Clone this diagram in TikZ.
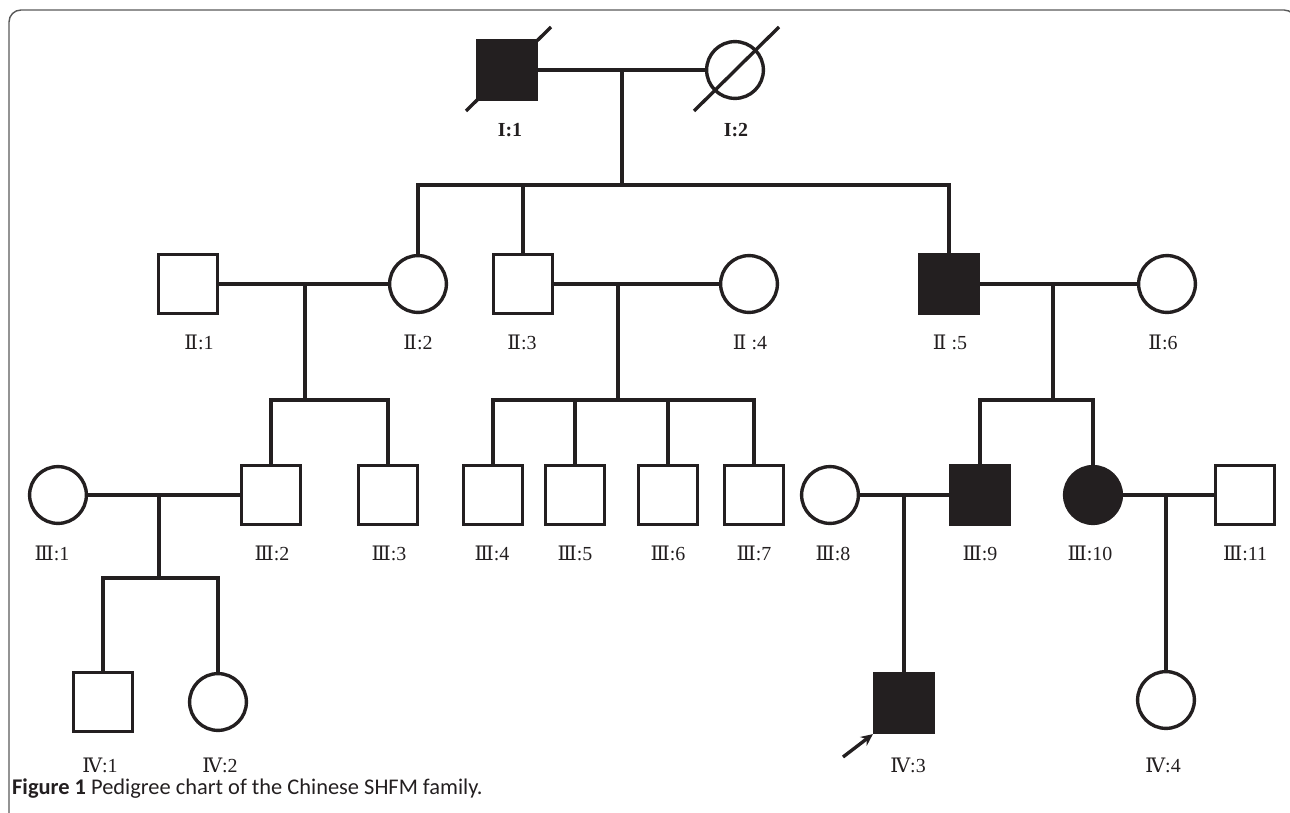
\documentclass[tikz,border=0pt]{standalone}
\usepackage{fontspec}
\setmainfont{Liberation Serif}
\newfontfamily\romfont{DejaVu Serif}
\newfontfamily\capfont{Carlito}
\usetikzlibrary{calc,arrows.meta}
\definecolor{ink}{HTML}{231F20}
\newcommand\rn[1]{{\romfont #1}}

\begin{document}
\begin{tikzpicture}[x=1bp,y=-1bp,
  male/.style={draw=ink,line width=3.4,rectangle,minimum size=59,inner sep=0pt},
  female/.style={draw=ink,line width=3.4,circle,minimum size=57,inner sep=0pt},
  msick/.style={male,fill=ink},
  fsick/.style={female,fill=ink},
  link/.style={draw=ink,line width=3.4},
  lbl/.style={text=ink,font=\fontsize{20}{24}\selectfont,inner sep=0pt}]

\useasboundingbox (0,0) rectangle (1290,813);
% frame
\draw[black!65,line width=1.4,rounded corners=12] (9,820) -- (9,10) -- (1296,10) -- (1296,820);

% individuals
\foreach \nm/\x/\y/\st in {I1/507/70/msick, I2/735/70/female,
    II1/188/284/male, II2/418/284/female, II3/523/284/male, II4/749/284/female,
    II5/949/284/msick, II6/1167/284/female,
    III1/58/495/female, III2/271/495/male, III3/388/495/male, III4/493/495/male,
    III5/575/495/male, III6/668/495/male, III7/754/495/male, III8/830/495/female,
    III9/980/495/msick, III10/1093/495/fsick, III11/1245/495/male,
    IV1/103/702/male, IV2/218/702/female, IV3/904/703/msick, IV4/1166/700/female}
  \node[\st] (\nm) at (\x,\y) {};

% deceased
\foreach \n in {I1,I2}
  \draw[link] ($(\n)+(-41,41)$) -- ($(\n)+(44,-43)$);

% labels
\node[lbl,font=\fontsize{20}{24}\selectfont\bfseries] (lI1) at (510,130) {I:1};
\node[lbl,font=\fontsize{20}{24}\selectfont\bfseries] (lI2) at (736,130) {I:2};
\foreach \nm/\x/\y/\txt in {II1/199/342/\rn{Ⅱ}:1, II2/418/342/\rn{Ⅱ}:2,
    II3/522/342/\rn{Ⅱ}:3, II4/750/342/\rn{Ⅱ} :4, II5/950/342/\rn{Ⅱ} :5,
    II6/1163/342/\rn{Ⅱ}:6,
    III1/52/553/\rn{Ⅲ}:1, III2/272/553/\rn{Ⅲ}:2, III3/389/553/\rn{Ⅲ}:3,
    III4/492/553/\rn{Ⅲ}:4, III5/575/553/\rn{Ⅲ}:5, III6/668/553/\rn{Ⅲ}:6,
    III7/754/553/\rn{Ⅲ}:7, III8/833/553/\rn{Ⅲ}:8, III9/980/553/\rn{Ⅲ}:9,
    III10/1090/553/\rn{Ⅲ}:10, III11/1245/553/\rn{Ⅲ}:11,
    IV1/100/765/\rn{Ⅳ}:1, IV2/220/765/\rn{Ⅳ}:2, IV3/908/765/\rn{Ⅳ}:3,
    IV4/1163/765/\rn{Ⅳ}:4}
  \node[lbl] (l\nm) at (\x,\y) {\txt};

% I:1 x I:2
\coordinate (m1) at (622,70);
\coordinate (s1) at (622,185);
\draw[link] (I1.east) -- (I2.west);
\draw[link] (m1) -- (s1);
\draw[link] (II2.north) -- (II2.north |- s1) -- (II5.north |- s1) -- (II5.north);
\draw[link] (II3.north |- s1) -- (II3.north);

% II:1 x II:2
\coordinate (m2) at (305,284);
\coordinate (s2) at (305,400);
\draw[link] (II1.east) -- (II2.west);
\draw[link] (m2) -- (s2);
\draw[link] (III2.north) -- (III2.north |- s2) -- (III3.north |- s2) -- (III3.north);

% II:3 x II:4
\coordinate (m3) at (618,284);
\coordinate (s3) at (618,400);
\draw[link] (II3.east) -- (II4.west);
\draw[link] (m3) -- (s3);
\draw[link] (III4.north) -- (III4.north |- s3) -- (III7.north |- s3) -- (III7.north);
\foreach \n in {III5,III6}
  \draw[link] (\n.north |- s3) -- (\n.north);

% II:5 x II:6
\coordinate (m4) at (1053,284);
\coordinate (s4) at (1053,400);
\draw[link] (II5.east) -- (II6.west);
\draw[link] (m4) -- (s4);
\draw[link] (III9.north) -- (III9.north |- s4) -- (III10.north |- s4) -- (III10.north);

% III:1 x III:2
\coordinate (m5) at (159,495);
\coordinate (s5) at (159,578);
\draw[link] (III1.east) -- (III2.west);
\draw[link] (m5) -- (s5);
\draw[link] (IV1.north) -- (IV1.north |- s5) -- (IV2.north |- s5) -- (IV2.north);

% III:8 x III:9
\coordinate (m6) at (904,495);
\draw[link] (III8.east) -- (III9.west);
\draw[link] (m6) -- (IV3.north);

% III:10 x III:11
\coordinate (m7) at (1166,495);
\draw[link] (III10.east) -- (III11.west);
\draw[link] (m7) -- (IV4.north);

% proband
\coordinate (arr) at (843,757);
\draw[link,-{Stealth[length=12,width=11]}] (arr) -- (IV3.south west);

% caption
\node[anchor=base west,inner sep=0pt,text=ink,font=\capfont\fontsize{22.5}{26}\selectfont] (cap) at (12,794)
  {\textbf{Figure 1} Pedigree chart of the Chinese SHFM family.};
\end{tikzpicture}
\end{document}
